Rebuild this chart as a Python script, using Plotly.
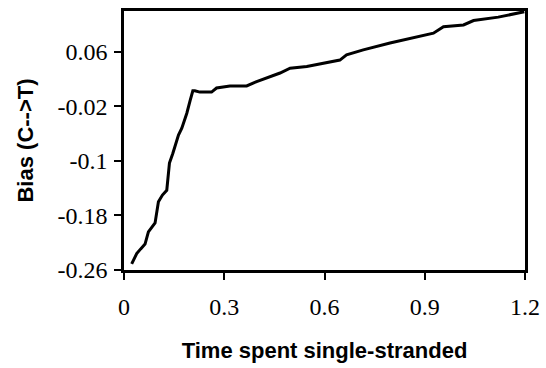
import plotly.graph_objects as go

time_ss = [0.023, 0.030, 0.038, 0.050, 0.063, 0.073, 0.083, 0.093, 0.103, 0.115, 0.128, 0.136, 0.146, 0.163,
           0.173, 0.188, 0.198, 0.206, 0.212, 0.227, 0.262, 0.277, 0.317, 0.367,
           0.397, 0.467, 0.497, 0.527, 0.547, 0.646, 0.666, 0.716, 0.796, 0.926,
           0.956, 1.016, 1.046, 1.120, 1.185, 1.198]
bias = [-0.251, -0.243, -0.236, -0.229, -0.222, -0.204, -0.198, -0.191, -0.160, -0.150, -0.143, -0.103, -0.089, -0.062,
        -0.052, -0.030, -0.011, 0.003, 0.003, 0.001, 0.001, 0.007, 0.010, 0.010,
        0.0165, 0.029, 0.036, 0.0375, 0.0385, 0.048, 0.0556, 0.063, 0.073, 0.0875,
        0.097, 0.0995, 0.106, 0.111, 0.1176, 0.119]

x_ticks = [0, 0.3, 0.6, 0.9, 1.2]
x_labels = ["0", "0.3", "0.6", "0.9", "1.2"]
y_ticks = [-0.26, -0.18, -0.1, -0.02, 0.06]
y_labels = ["-0.26", "-0.18", "-0.1", "-0.02", "0.06"]

fig = go.Figure()
fig.add_trace(go.Scatter(x=time_ss, y=bias, mode="lines",
                         line=dict(color="black", width=3), showlegend=False))

tickfont = dict(family="Liberation Serif", size=24, color="black")
titlefont = dict(family="Liberation Sans", size=22, color="black")

fig.update_layout(
    width=546, height=368,
    margin=dict(l=124, r=21, t=11, b=98),
    paper_bgcolor="white", plot_bgcolor="white",
    xaxis=dict(range=[0, 1.2], tickvals=x_ticks, ticktext=x_labels,
               showgrid=False, zeroline=False, showline=True, mirror=True,
               linecolor="black", linewidth=2.5, ticks="outside", ticklen=7,
               tickwidth=1.5, tickcolor="black", tickfont=tickfont,
               ticklabelstandoff=6, automargin=False,
               title=dict(text="<b>Time spent single-stranded</b>", font=titlefont, standoff=25)),
    yaxis=dict(range=[-0.26, 0.12], tickvals=y_ticks, ticktext=y_labels,
               showgrid=False, zeroline=False, showline=True, mirror=True,
               linecolor="black", linewidth=2.5, ticks="outside", ticklen=7,
               tickwidth=1.5, tickcolor="black", tickfont=tickfont,
               ticklabelstandoff=2, automargin=False,
               title=dict(text="<b>Bias (C-->T)</b>", font=titlefont, standoff=18)),
)

fig.write_html("out.html")
